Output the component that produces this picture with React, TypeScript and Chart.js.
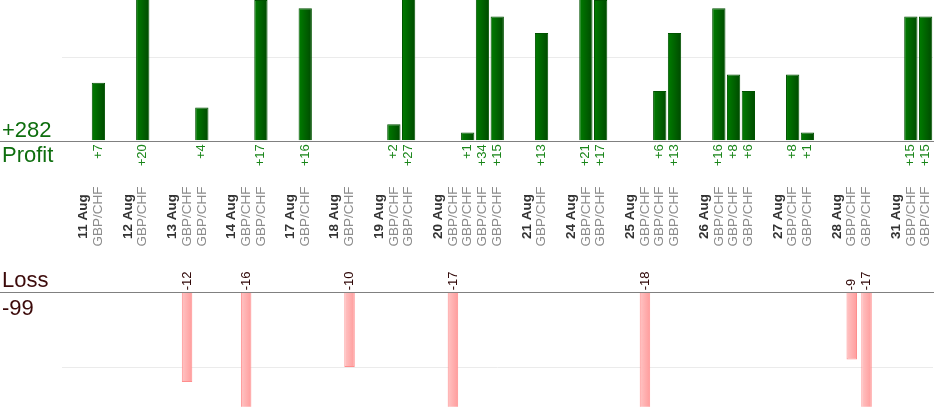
import React, { useEffect, useRef } from "react";
import { Chart, registerables } from "chart.js";

Chart.register(...registerables);

// ---- data ----
const tradeDates = [
  "11 Aug", "12 Aug", "13 Aug", "13 Aug", "14 Aug", "14 Aug", "17 Aug", "18 Aug",
  "19 Aug", "19 Aug", "20 Aug", "20 Aug", "20 Aug", "20 Aug", "21 Aug", "24 Aug",
  "24 Aug", "25 Aug", "25 Aug", "25 Aug", "26 Aug", "26 Aug", "26 Aug", "27 Aug",
  "27 Aug", "28 Aug", "28 Aug", "31 Aug", "31 Aug",
];
const tradeResults = [
  7, 20, -12, 4, -16, 17, 16, -10,
  2, 27, -17, 1, 34, 15, 13, 21,
  17, -18, 6, 13, 16, 8, 6, 8,
  1, -9, -17, 15, 15,
];
const tradePair = "GBP/CHF";
const profitAxisMax = 17;
const lossAxisMin = -15.3;
const gridStep = 10;
const profitTitle = "Profit";
const lossTitle = "Loss";

type Slot = { kind: "pad" | "date" | "trade" | "gap"; label: string; value: number | null };

function buildSlots(): Slot[] {
  const slots: Slot[] = [{ kind: "pad", label: "", value: null }];
  let prev: string | null = null;
  tradeDates.forEach((d, i) => {
    if (d !== prev) {
      if (prev !== null) slots.push({ kind: "gap", label: "", value: null });
      slots.push({ kind: "date", label: d, value: null });
      prev = d;
    }
    slots.push({ kind: "trade", label: tradePair, value: tradeResults[i] });
  });
  return slots;
}

const FONT = '"Liberation Sans", Arial, sans-serif';

export default function App() {
  const ref = useRef<HTMLCanvasElement | null>(null);

  useEffect(() => {
    document.body.style.margin = "0";
    const canvas = ref.current;
    if (!canvas) return;
    const slots = buildSlots();
    const labels = slots.map((s) => s.label);
    const profitData = slots.map((s) => (s.kind === "trade" && (s.value as number) > 0 ? s.value : null));
    const lossData = slots.map((s) => (s.kind === "trade" && (s.value as number) < 0 ? s.value : null));
    const totalProfit = tradeResults.filter((v) => v > 0).reduce((a, b) => a + b, 0);
    const totalLoss = tradeResults.filter((v) => v < 0).reduce((a, b) => a + b, 0);

    const PROFIT_PCT = 0.9;
    const LOSS_PCT = 0.71;

    const gradFill = (pct: number, c1: string, c2: string) => (ctx: any) => {
      const chart = ctx.chart;
      const xs = chart.scales?.x;
      if (!chart.chartArea || !xs) return c1;
      const xc = xs.getPixelForValue(ctx.dataIndex);
      const half = ((xs.width / labels.length) * pct) / 2;
      const g = chart.ctx.createLinearGradient(xc - half, 0, xc + half, 0);
      g.addColorStop(0, c1);
      g.addColorStop(1, c2);
      return g;
    };

    const gridColor = (ctx: any) => (ctx.tick && Math.abs(ctx.tick.value) === gridStep ? "#ebebeb" : "rgba(0,0,0,0)");

    const labelPlugin = {
      id: "pnlLabels",
      beforeDatasetsDraw(chart: any) {
        const c = chart.ctx;
        const y0P = chart.scales.yP.getPixelForValue(0);
        const y0L = chart.scales.yL.getPixelForValue(0);
        c.save();
        c.strokeStyle = "#808080";
        c.lineWidth = 1;
        [y0P, y0L].forEach((y) => {
          const yy = Math.round(y) + 0.5;
          c.beginPath();
          c.moveTo(0, yy);
          c.lineTo(chart.width, yy);
          c.stroke();
        });
        c.restore();
      },
      afterDatasetsDraw(chart: any) {
        const c = chart.ctx;
        const xs = chart.scales.x;
        const y0P = chart.scales.yP.getPixelForValue(0);
        const y0L = chart.scales.yL.getPixelForValue(0);
        const yMid = (y0P + y0L) / 2;
        c.save();
        slots.forEach((s, i) => {
          const x = xs.getPixelForValue(i);
          if (s.kind === "date" || s.kind === "trade") {
            c.save();
            c.translate(x, yMid);
            c.rotate(-Math.PI / 2);
            c.textAlign = "center";
            c.textBaseline = "middle";
            if (s.kind === "date") {
              c.font = `bold 13.5px ${FONT}`;
              c.fillStyle = "#333333";
            } else {
              c.font = `13.5px ${FONT}`;
              c.fillStyle = "#8c8c8c";
            }
            c.fillText(s.label, 0, 0);
            c.restore();
          }
          if (s.kind === "trade" && s.value !== null) {
            c.save();
            c.font = `13px ${FONT}`;
            c.textBaseline = "middle";
            if (s.value > 0) {
              c.translate(x, y0P + 3.5);
              c.rotate(-Math.PI / 2);
              c.textAlign = "right";
              c.fillStyle = "#1a861a";
              c.fillText(`+${s.value}`, 0, 0);
            } else {
              c.translate(x, y0L - 2);
              c.rotate(-Math.PI / 2);
              c.textAlign = "left";
              c.fillStyle = "#2e0505";
              c.fillText(`${s.value}`, 0, 0);
            }
            c.restore();
          }
        });
        c.font = `22px ${FONT}`;
        c.textAlign = "left";
        c.textBaseline = "alphabetic";
        c.fillStyle = "#0e6e0e";
        c.fillText(`+${totalProfit}`, 2, y0P - 3.5);
        c.fillText(profitTitle, 2, y0P + 21.5);
        c.fillStyle = "#3c0a0a";
        c.fillText(lossTitle, 2, y0L - 5);
        c.fillText(`${totalLoss}`, 2, y0L + 23);
        c.restore();
      },
    };

    const chart = new Chart(canvas, {
      type: "bar",
      data: {
        labels,
        datasets: [
          {
            label: "Profit",
            data: profitData,
            yAxisID: "yP",
            grouped: false,
            barPercentage: PROFIT_PCT,
            categoryPercentage: 1,
            backgroundColor: gradFill(PROFIT_PCT, "#007d00", "#004a00"),
            borderColor: "#005200",
            borderWidth: 1,
          },
          {
            label: "Loss",
            data: lossData,
            yAxisID: "yL",
            grouped: false,
            barPercentage: LOSS_PCT,
            categoryPercentage: 1,
            backgroundColor: gradFill(LOSS_PCT, "#ffc4c4", "#ff9c9c"),
            borderColor: "#ff8e8e",
            borderWidth: 1,
          },
        ],
      },
      options: {
        animation: false,
        responsive: false,
        events: [],
        layout: { padding: { left: 61.5, right: 1, top: 0, bottom: 13.3 } },
        plugins: { legend: { display: false }, tooltip: { enabled: false } },
        scales: {
          x: { type: "category", display: false, offset: true },
          yP: {
            type: "linear",
            position: "left",
            stack: "panels",
            stackWeight: 140.7,
            weight: 3,
            min: 0,
            max: profitAxisMax,
            ticks: { display: false, stepSize: gridStep },
            grid: { color: gridColor, drawTicks: false, lineWidth: 1 },
            border: { display: false },
          },
          yM: {
            type: "linear",
            position: "left",
            stack: "panels",
            stackWeight: 151.6,
            weight: 2,
            min: 0,
            max: 1,
            display: false,
          },
          yL: {
            type: "linear",
            position: "left",
            stack: "panels",
            stackWeight: 114.4,
            weight: 1,
            min: lossAxisMin,
            max: 0,
            ticks: { display: false, stepSize: gridStep },
            grid: { color: gridColor, drawTicks: false, lineWidth: 1 },
            border: { display: false },
          },
        },
      } as any,
      plugins: [labelPlugin],
    });
    return () => chart.destroy();
  }, []);

  return <canvas ref={ref} width={934} height={420} style={{ display: "block" }} />;
}
